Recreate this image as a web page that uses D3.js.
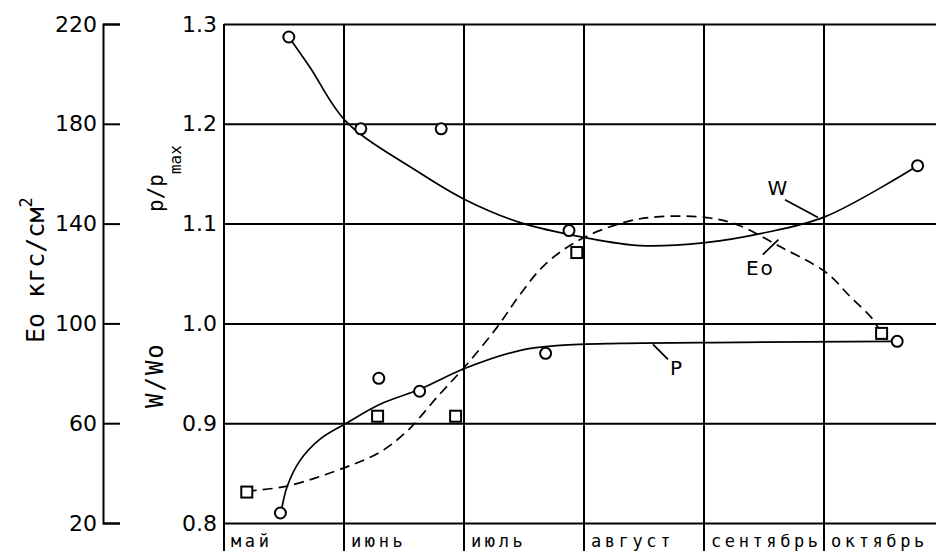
<!DOCTYPE html>
<html>
<head>
<meta charset="utf-8">
<script src="https://cdn.jsdelivr.net/npm/d3@7"></script>
<style>
  body { margin: 0; background: #fff; }
  text { font-family: 'DejaVu Sans Mono', monospace; fill: #000; }
  .num { font-family: 'DejaVu Sans', sans-serif; }
</style>
</head>
<body>
<svg width="936" height="551"></svg>
<script>
const months = ['май', 'июнь', 'июль', 'август', 'сентябрь', 'октябрь']
const ratioTicks = [0.8, 0.9, 1.0, 1.1, 1.2, 1.3]
const eoTicks = [20, 60, 100, 140, 180, 220]

// observed points, x = months since 1 May
const wPoints = [[0.54, 1.287], [1.14, 1.195], [1.81, 1.195], [2.875, 1.093], [5.78, 1.158]]
const pPoints = [[0.47, 0.81], [1.29, 0.945], [1.63, 0.932], [2.68, 0.97], [5.61, 0.982]]
const eoPoints = [[0.19, 32.4], [1.28, 62.8], [1.93, 62.8], [2.94, 128.4], [5.48, 96]]

// fitted curves
const wCurve = [[0.54, 1.287], [0.72, 1.256], [1.02, 1.202], [1.63, 1.151], [2.01, 1.124],
  [2.47, 1.101], [3.01, 1.086], [3.47, 1.078], [4.01, 1.081], [4.47, 1.090], [5.01, 1.107], [5.78, 1.158]]
const pCurve = [[0.475, 0.81], [0.525, 0.836], [0.63, 0.862], [0.8, 0.884], [1.02, 0.9], [1.3, 0.919],
  [1.63, 0.934], [2.01, 0.955], [2.47, 0.973], [2.8, 0.978], [3.3, 0.98], [4.3, 0.981], [5.59, 0.982]]
const eoCurve = [[0.19, 32.8], [0.525, 34.8], [1.017, 42.4], [1.3, 48.4], [1.525, 56.8], [1.775, 70.4],
  [2.017, 83.2], [2.275, 98.4], [2.467, 111.6], [2.675, 123.6], [2.967, 133.6], [3.358, 140.8],
  [3.633, 142.8], [4.025, 142.4], [4.275, 139.6], [4.633, 130.8], [5.017, 120.4], [5.217, 110.8],
  [5.408, 101.6], [5.475, 96]]

const svg = d3.select('svg')

const plotLeft = 224
const plotTop = 24
const plotBottom = 523
const monthWidth = 120

const x = d3.scaleLinear().domain([0, 6]).range([plotLeft, plotLeft + 6 * monthWidth])
const yR = d3.scaleLinear().domain([0.8, 1.3]).range([plotBottom, plotTop])
const yE = d3.scaleLinear().domain([20, 220]).range([plotBottom, plotTop])

// grid + ratio axis
const ratioAxis = svg.append('g')
  .attr('transform', `translate(${plotLeft},0)`)
  .call(d3.axisLeft(yR).tickValues(ratioTicks).tickFormat(d3.format('.1f'))
    .tickSizeInner(-6 * monthWidth).tickSizeOuter(0).tickPadding(7))
ratioAxis.select('.domain').remove()
ratioAxis.selectAll('line').attr('stroke', '#000').attr('stroke-width', 2)
ratioAxis.selectAll('text')
  .attr('class', 'num').attr('font-size', 22)

svg.append('g').selectAll('line')
  .data(d3.range(0, 7))
  .join('line')
  .attr('x1', d => x(d)).attr('x2', d => x(d))
  .attr('y1', plotTop).attr('y2', 551)
  .attr('stroke', '#000').attr('stroke-width', 2)

// month names
svg.append('g').selectAll('text')
  .data(months)
  .join('text')
  .attr('x', (d, i) => x(i) + 7)
  .attr('y', 547)
  .attr('font-size', 17)
  .attr('letter-spacing', 3.6)
  .text(d => d)

// Eo axis
const eoAxis = svg.append('g')
  .attr('transform', 'translate(103,0)')
  .call(d3.axisLeft(yE).tickValues(eoTicks).tickSize(-17).tickPadding(6))
eoAxis.selectAll('line, path').attr('stroke', '#000').attr('stroke-width', 2)
eoAxis.selectAll('text').attr('class', 'num').attr('font-size', 22)

// axis titles
const eoTitle = svg.append('text')
  .attr('transform', 'translate(44,343) rotate(-90)')
  .attr('font-size', 25)
eoTitle.append('tspan').text('Eo кгс/см')
eoTitle.append('tspan').attr('dy', -12).attr('font-size', 17).text('2')

const pTitle = svg.append('text')
  .attr('transform', 'translate(163,212) rotate(-90)')
  .attr('font-size', 21)
pTitle.append('tspan').text('p/p')
pTitle.append('tspan').attr('dy', 18).attr('font-size', 16).text('max')

svg.append('text')
  .attr('transform', 'translate(163,408) rotate(-90)')
  .attr('font-size', 24)
  .attr('letter-spacing', 2)
  .text('W/Wo')

// curves
const lineR = d3.line().x(d => x(d[0])).y(d => yR(d[1])).curve(d3.curveCatmullRom)
const lineE = d3.line().x(d => x(d[0])).y(d => yE(d[1])).curve(d3.curveCatmullRom)

svg.append('path').attr('d', lineR(wCurve))
  .attr('fill', 'none').attr('stroke', '#000').attr('stroke-width', 1.7)
svg.append('path').attr('d', lineR(pCurve))
  .attr('fill', 'none').attr('stroke', '#000').attr('stroke-width', 1.7)
svg.append('path').attr('d', lineE(eoCurve))
  .attr('fill', 'none').attr('stroke', '#000').attr('stroke-width', 1.7)
  .attr('stroke-dasharray', '10,6')

// markers
svg.append('g').selectAll('circle')
  .data(wPoints.concat(pPoints))
  .join('circle')
  .attr('cx', d => x(d[0])).attr('cy', d => yR(d[1]))
  .attr('r', 5.5)
  .attr('fill', '#fff').attr('stroke', '#000').attr('stroke-width', 2)

svg.append('g').selectAll('rect')
  .data(eoPoints)
  .join('rect')
  .attr('x', d => x(d[0]) - 5.5).attr('y', d => yE(d[1]) - 5.5)
  .attr('width', 11).attr('height', 11)
  .attr('fill', '#fff').attr('stroke', '#000').attr('stroke-width', 2)

// curve labels with leaders
const labels = [
  { text: 'W', at: [4.62, 1.136], from: [4.675, 1.124], to: [4.95, 1.106] },
  { text: 'Eo', at: [4.47, 1.056], from: [4.49, 1.069], to: [4.62, 1.084] },
  { text: 'P', at: [3.775, 0.956], from: [3.575, 0.979], to: [3.7, 0.964] }
]
const lab = svg.append('g').selectAll('g').data(labels).join('g')
lab.append('line')
  .attr('x1', d => x(d.from[0])).attr('y1', d => yR(d.from[1]))
  .attr('x2', d => x(d.to[0])).attr('y2', d => yR(d.to[1]))
  .attr('stroke', '#000').attr('stroke-width', 1.7)
lab.append('text')
  .attr('class', 'num')
  .attr('x', d => x(d.at[0])).attr('y', d => yR(d.at[1]))
  .attr('dy', '0.36em')
  .attr('text-anchor', 'middle')
  .attr('font-size', 20)
  .attr('letter-spacing', 2)
  .text(d => d.text)
</script>
</body>
</html>
